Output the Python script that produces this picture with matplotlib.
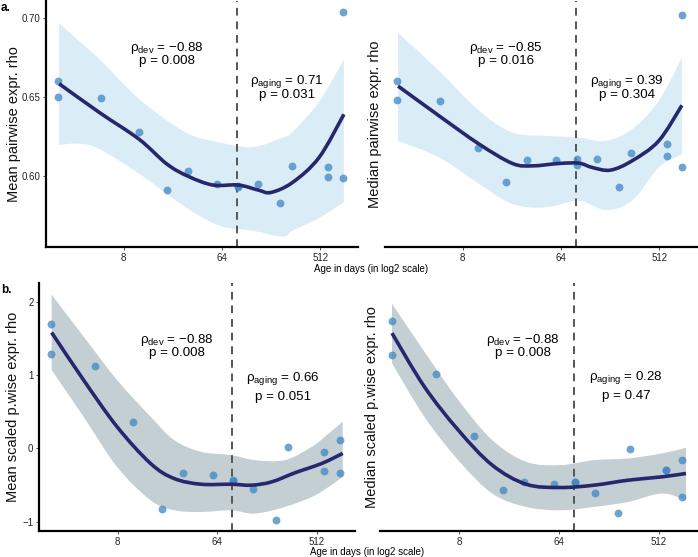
import matplotlib
matplotlib.use("Agg")
import matplotlib.pyplot as plt
import numpy as np
from matplotlib.ticker import FixedLocator, FixedFormatter
from matplotlib.path import Path
from matplotlib.patches import PathPatch

plt.rcParams['font.family'] = ['Liberation Sans', 'DejaVu Sans']
plt.rcParams['mathtext.fontset'] = 'custom'
plt.rcParams['mathtext.rm'] = 'Liberation Sans'
plt.rcParams['mathtext.it'] = 'Liberation Sans:italic'
plt.rcParams['mathtext.bf'] = 'Liberation Sans:bold'

# ---------------- data ----------------
ages = [2, 2, 5, 11, 20, 31, 58, 89, 89, 136, 218, 282, 600, 600, 832, 832]

mean_rho = [0.660, 0.650, 0.6495, 0.628, 0.5914, 0.6036, 0.5952, 0.5942, 0.5936,
            0.5954, 0.5831, 0.6065, 0.6061, 0.5996, 0.7035, 0.5992]
median_rho = [0.660, 0.648, 0.6476, 0.6182, 0.5962, 0.6101, 0.6107, 0.6109, 0.6071,
              0.6113, 0.5931, 0.6151, 0.6203, 0.6128, 0.7017, 0.6059]
mean_scaled = [1.70, 1.29, 1.13, 0.356, -0.822, -0.338, -0.365, -0.434, -0.44,
               -0.548, -0.973, 0.023, -0.050, -0.315, 0.110, -0.342]
median_scaled = [1.735, 1.279, 1.018, 0.164, -0.562, -0.457, -0.484, -0.452, -0.46,
                 -0.607, -0.877, -0.014, -0.288, -0.29, -0.160, -0.667]

# smooth fits (log2 age, value)
fit_a1_log2 = [1.03, 2.27, 3.47, 4.32, 4.98, 5.72, 6.50, 7.11, 7.49, 8.15, 8.96, 9.72]
fit_a1 = [0.6585, 0.6402, 0.6235, 0.6078, 0.600, 0.5946, 0.5946, 0.5914, 0.5899, 0.5962, 0.6119, 0.6392]
band_a1_log2 = [1.03, 1.66, 2.27, 3.49, 4.90, 5.92, 6.93, 7.84, 8.17, 8.98, 9.72]
band_a1_hi = [0.6968, 0.6850, 0.6738, 0.6486, 0.6277, 0.6215, 0.6185, 0.6245, 0.6285, 0.6476, 0.6740]
band_a1_lo = [0.6199, 0.6207, 0.6172, 0.6015, 0.5805, 0.5690, 0.5658, 0.5621, 0.5660, 0.5740, 0.5837]

fit_a2_log2 = [1.03, 2.29, 3.51, 4.52, 5.13, 5.94, 6.55, 6.95, 7.51, 8.17, 8.98, 9.69]
fit_a2 = [0.6570, 0.6381, 0.6203, 0.6082, 0.6067, 0.6082, 0.6084, 0.6057, 0.6040, 0.6099, 0.6224, 0.6449]
band_a2_log2 = [1.03, 2.29, 3.51, 4.52, 5.53, 6.55, 7.36, 8.17, 8.98, 9.69]
band_a2_hi = [0.6906, 0.6664, 0.6413, 0.6277, 0.6256, 0.6245, 0.6224, 0.6298, 0.6476, 0.6748]
band_a2_lo = [0.6224, 0.6119, 0.5952, 0.5826, 0.5805, 0.5847, 0.5788, 0.5847, 0.6057, 0.6140]

fit_b1_log2 = [1.01, 1.97, 2.98, 3.99, 4.70, 5.51, 6.42, 7.03, 7.64, 8.34, 9.15, 9.78]
fit_b1 = [1.584, 0.936, 0.297, -0.205, -0.411, -0.489, -0.489, -0.502, -0.457, -0.333, -0.205, -0.068]
band_b1_log2 = [1.01, 1.97, 2.98, 3.99, 4.70, 5.51, 6.42, 7.13, 8.04, 8.85, 9.36, 9.78]
band_b1_hi = [2.10, 1.53, 0.936, 0.434, 0.114, -0.046, -0.091, -0.160, -0.160, 0.023, 0.205, 0.365]
band_b1_lo = [1.073, 0.434, -0.251, -0.708, -0.845, -0.868, -0.845, -0.890, -0.799, -0.662, -0.525, -0.388]

fit_b2_log2 = [0.99, 1.96, 2.98, 4.00, 5.02, 6.04, 7.06, 8.08, 9.10, 9.82]
fit_b2 = [1.575, 0.845, 0.251, -0.228, -0.489, -0.534, -0.502, -0.434, -0.388, -0.342]
band_b2_hi = [1.977, 1.324, 0.662, 0.114, -0.183, -0.228, -0.160, -0.137, -0.068, 0.010]
band_b2_lo = [1.164, 0.434, -0.160, -0.616, -0.799, -0.845, -0.799, -0.731, -0.616, -0.708]

split_age = 87
xticks = [8, 64, 512]

# ---------------- figure ----------------
W, H = 698, 557
fig = plt.figure(figsize=(W / 100, H / 100), dpi=100)

def axes_px(l, r, t, b):
    return fig.add_axes([l / W, 1 - b / H, (r - l) / W, (b - t) / H])

ax_a1 = axes_px(46, 358, 1, 247)
ax_a2 = axes_px(385, 697, 1, 247)
ax_b1 = axes_px(39, 355, 283, 531)
ax_b2 = axes_px(380, 697, 283, 531)

pt_col = '#3f86c4'
line_col = '#27276e'
band_top = '#daedf6'
band_bot = '#c3cfd3'


def bezier_segments(xs, ys):
    """Catmull-Rom through the read points, expressed as cubic Bezier control points."""
    p = np.column_stack([xs, ys]).astype(float)
    n = len(p)
    verts = [p[0]]
    for i in range(n - 1):
        p0 = p[i - 1] if i > 0 else p[i]
        p1, p2 = p[i], p[i + 1]
        p3 = p[i + 2] if i + 2 < n else p[i + 1]
        c1 = p1 + (p2 - p0) / 6.0
        c2 = p2 - (p3 - p1) / 6.0
        verts += [c1, c2, p2]
    return np.array(verts)


def to_data(v):
    v = v.copy()
    v[:, 0] = 2 ** v[:, 0]
    return v


def smooth_line(ax, xs, ys, **kw):
    v = bezier_segments(xs, ys)
    codes = [Path.MOVETO] + [Path.CURVE4] * (len(v) - 1)
    patch = PathPatch(Path(to_data(v), codes), facecolor='none', **kw)
    ax.add_patch(patch)


def smooth_band(ax, xs, hi, lo, color):
    vu = bezier_segments(xs, hi)
    vl = bezier_segments(xs[::-1], lo[::-1])
    v = np.vstack([vu, vl, vu[:1]])
    codes = ([Path.MOVETO] + [Path.CURVE4] * (len(vu) - 1) +
             [Path.LINETO] + [Path.CURVE4] * (len(vl) - 1) + [Path.CLOSEPOLY])
    patch = PathPatch(Path(to_data(v), codes), facecolor=color, edgecolor='none', lw=0, zorder=1)
    ax.add_patch(patch)


def style(ax, left_axis, ylim):
    ax.set_xscale('log', base=2)
    ax.set_xlim(2 ** 0.63, 2 ** 10.15)
    ax.set_ylim(*ylim)
    ax.xaxis.set_major_locator(FixedLocator(xticks))
    ax.xaxis.set_major_formatter(FixedFormatter([str(t) for t in xticks]))
    ax.xaxis.set_minor_locator(FixedLocator([]))
    for s in ['top', 'right']:
        ax.spines[s].set_visible(False)
    ax.spines['bottom'].set_linewidth(1.6)
    ax.spines['left'].set_linewidth(1.6)
    ax.tick_params(axis='both', labelsize=7, length=2, width=0.6, pad=2, colors='#333333',
                   labelcolor='#222222')
    if not left_axis:
        ax.spines['left'].set_visible(False)
        ax.tick_params(axis='y', left=False, labelleft=False)
    ax.set_facecolor('none')


def draw(ax, y, fx, fy, bx, bhi, blo, bandc):
    smooth_band(ax, list(bx), list(bhi), list(blo), bandc)
    ax.axvline(split_age, color='#555555', lw=1.4, ls=(0, (4, 3)), zorder=2)
    ax.scatter(ages, y, s=32, color=pt_col, alpha=0.75, lw=0, zorder=3)
    smooth_line(ax, fx, fy, edgecolor=line_col, lw=2.6, zorder=4, capstyle='butt')


ylim_a = (0.5555, 0.7107)
ylim_b = (-1.128, 2.26)

draw(ax_a1, mean_rho, fit_a1_log2, fit_a1, band_a1_log2, band_a1_hi, band_a1_lo, band_top)
draw(ax_a2, median_rho, fit_a2_log2, fit_a2, band_a2_log2, band_a2_hi, band_a2_lo, band_top)
draw(ax_b1, mean_scaled, fit_b1_log2, fit_b1, band_b1_log2, band_b1_hi, band_b1_lo, band_bot)
draw(ax_b2, median_scaled, fit_b2_log2, fit_b2, fit_b2_log2, band_b2_hi, band_b2_lo, band_bot)

style(ax_a1, True, ylim_a)
style(ax_a2, False, ylim_a)
style(ax_b1, True, ylim_b)
style(ax_b2, False, ylim_b)
ax_a1.set_yticks([0.60, 0.65, 0.70])
ax_a1.set_yticklabels(['0.60', '0.65', '0.70'])
ax_b1.set_yticks([-1, 0, 1, 2])
ax_b1.set_yticklabels(['\u22121', '0', '1', '2'])

ylab_fs = 10.5
for ax, lab, xc in [(ax_a1, 'Mean pairwise expr. rho', -0.103),
                    (ax_a2, 'Median pairwise expr. rho', -0.032),
                    (ax_b1, 'Mean scaled p.wise expr. rho', -0.082),
                    (ax_b2, 'Median scaled p.wise expr. rho', -0.026)]:
    ax.set_ylabel(lab, fontsize=ylab_fs, va='center', color='#111111')
    ax.yaxis.set_label_coords(xc, 0.5)

ann_fs = 9.6
def ann(ax, x, yc, name, rho, p, ls):
    s = '\u03c1$_{\\mathrm{' + name + '}}$ = ' + rho + '\np = ' + p
    ax.text(x, yc, s, transform=ax.transAxes, ha='center', va='center',
            multialignment='center', fontsize=ann_fs, linespacing=ls)

ann(ax_a1, 0.388, 0.785, 'dev', '\u22120.88', '0.008', 0.9)
ann(ax_a1, 0.772, 0.650, 'aging', '0.71', '0.031', 0.95)
ann(ax_a2, 0.387, 0.785, 'dev', '\u22120.85', '0.016', 0.9)
ann(ax_a2, 0.775, 0.650, 'aging', '0.39', '0.304', 0.95)
ann(ax_b1, 0.436, 0.748, 'dev', '\u22120.88', '0.008', 0.85)
ann(ax_b1, 0.773, 0.583, 'aging', '0.66', '0.051', 1.45)
ann(ax_b2, 0.45, 0.748, 'dev', '\u22120.88', '0.008', 0.85)
ann(ax_b2, 0.776, 0.585, 'aging', '0.28', '0.47', 1.45)

fig.text(371 / W, 1 - 269 / H, 'Age in days (in log2 scale)', ha='center', va='center', fontsize=7)
fig.text(367 / W, 1 - 552 / H, 'Age in days (in log2 scale)', ha='center', va='center', fontsize=7)
fig.text(1 / W, 1 - 8 / H, 'a.', ha='left', va='center', fontsize=8.5, fontweight='bold')
fig.text(1 / W, 1 - 290 / H, 'b.', ha='left', va='center', fontsize=8.5, fontweight='bold')

fig.savefig('out.png', dpi=100)
